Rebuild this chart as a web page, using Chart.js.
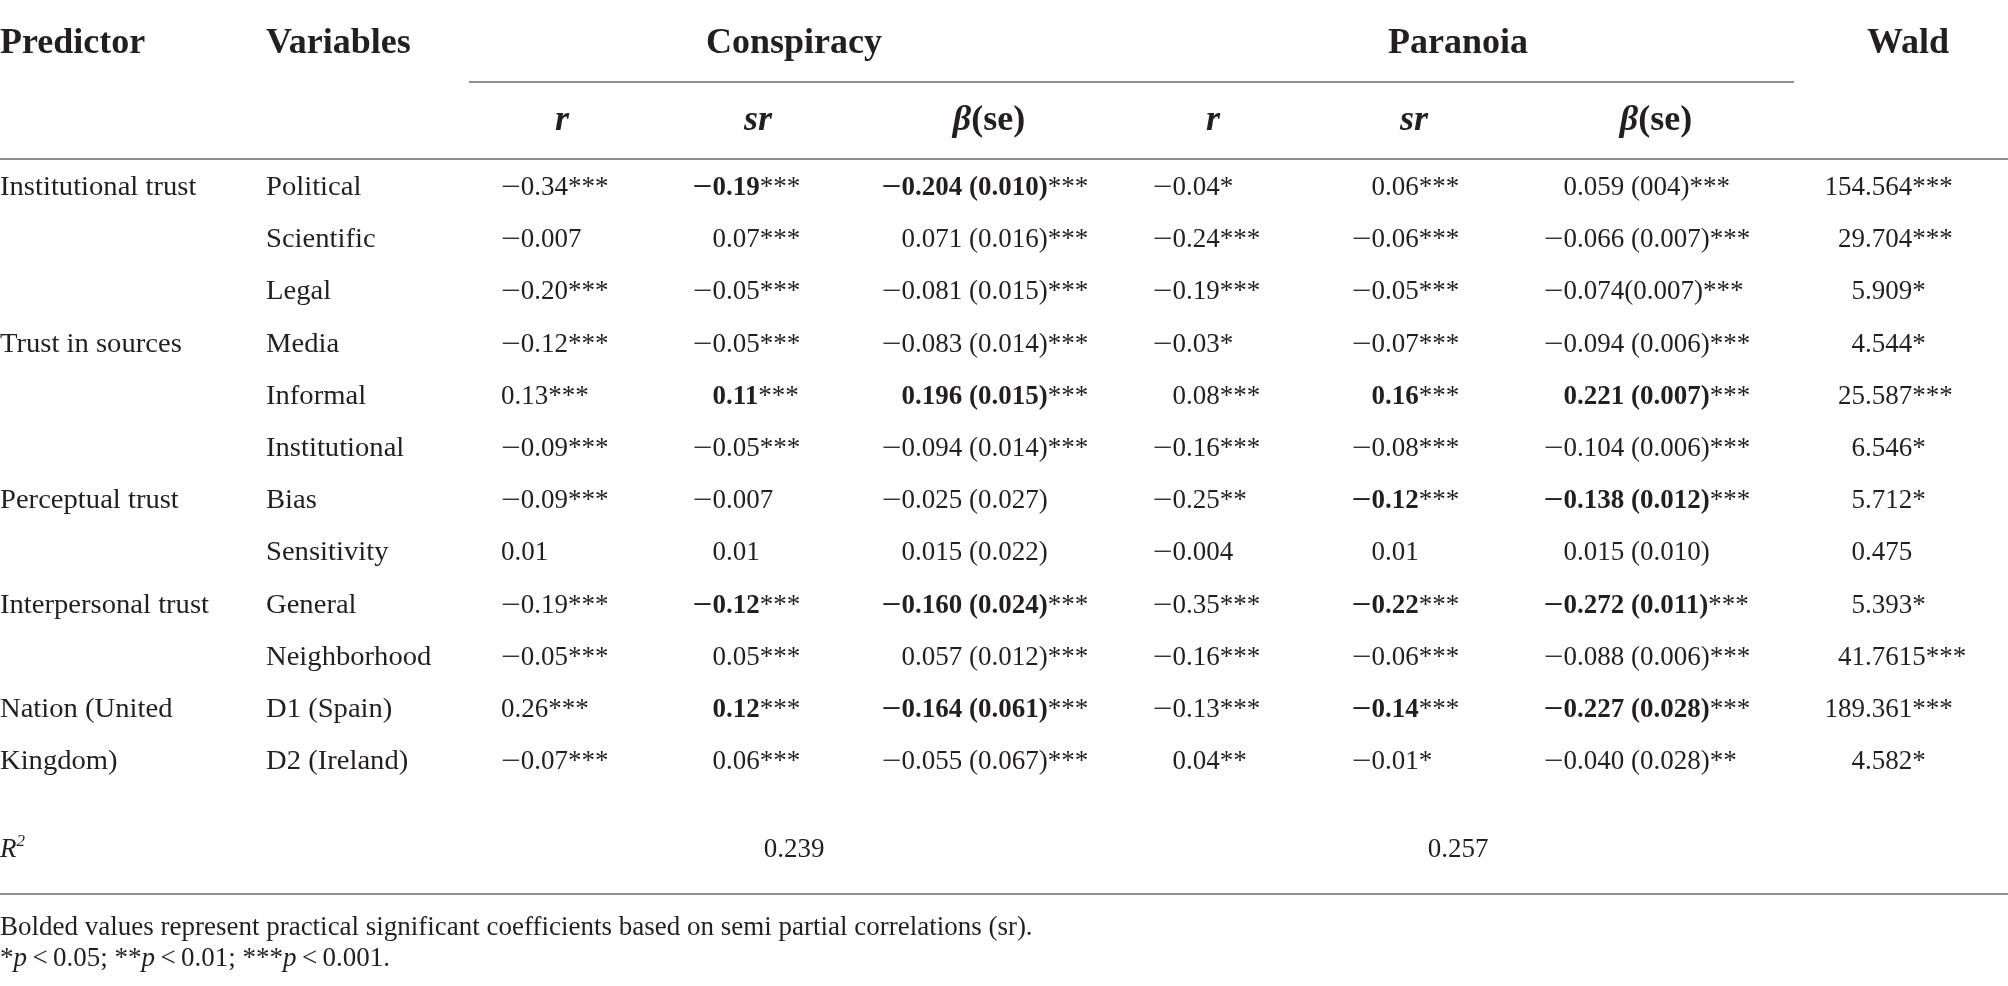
<!DOCTYPE html>
<html><head><meta charset="utf-8">
<script src="https://cdn.jsdelivr.net/npm/chart.js@4.4.1/dist/chart.umd.min.js"></script>
<style>html,body{margin:0;padding:0;background:#fff;overflow:hidden}#wrap{width:2008px;height:986px;position:relative}</style>
</head><body><div id="wrap"><canvas id="c" width="2008" height="986"></canvas></div>
<script>
// ---------- data ----------
const headerLabels = ["Predictor", "Variables", "Wald"];
const groupLabels = ["Conspiracy", "Paranoia"];
const subLabels = ["r", "sr", "β(se)"];
const predictors = ["Institutional trust", "", "", "Trust in sources", "", "", "Perceptual trust", "", "Interpersonal trust", "", "Nation (United", "Kingdom)"];
const variables = ["Political", "Scientific", "Legal", "Media", "Informal", "Institutional", "Bias", "Sensitivity", "General", "Neighborhood", "D1 (Spain)", "D2 (Ireland)"];
const conspiracyR = ["−0.34***", "−0.007", "−0.20***", "−0.12***", "0.13***", "−0.09***", "−0.09***", "0.01", "−0.19***", "−0.05***", "0.26***", "−0.07***"];
const conspiracySr = ["−0.19***", "0.07***", "−0.05***", "−0.05***", "0.11***", "−0.05***", "−0.007", "0.01", "−0.12***", "0.05***", "0.12***", "0.06***"];
const conspiracyBeta = ["−0.204 (0.010)***", "0.071 (0.016)***", "−0.081 (0.015)***", "−0.083 (0.014)***", "0.196 (0.015)***", "−0.094 (0.014)***", "−0.025 (0.027)", "0.015 (0.022)", "−0.160 (0.024)***", "0.057 (0.012)***", "−0.164 (0.061)***", "−0.055 (0.067)***"];
const paranoiaR = ["−0.04*", "−0.24***", "−0.19***", "−0.03*", "0.08***", "−0.16***", "−0.25**", "−0.004", "−0.35***", "−0.16***", "−0.13***", "0.04**"];
const paranoiaSr = ["0.06***", "−0.06***", "−0.05***", "−0.07***", "0.16***", "−0.08***", "−0.12***", "0.01", "−0.22***", "−0.06***", "−0.14***", "−0.01*"];
const paranoiaBeta = ["0.059 (004)***", "−0.066 (0.007)***", "−0.074(0.007)***", "−0.094 (0.006)***", "0.221 (0.007)***", "−0.104 (0.006)***", "−0.138 (0.012)***", "0.015 (0.010)", "−0.272 (0.011)***", "−0.088 (0.006)***", "−0.227 (0.028)***", "−0.040 (0.028)**"];
const wald = ["154.564***", "29.704***", "5.909*", "4.544*", "25.587***", "6.546*", "5.712*", "0.475", "5.393*", "41.7615***", "189.361***", "4.582*"];
const conspiracyBold = [true, false, false, false, true, false, false, false, true, false, true, false];
const paranoiaBold = [false, false, false, false, true, false, true, false, true, false, true, false];
const rSquared = ["0.239", "0.257"];
const note1 = "Bolded values represent practical significant coefficients based on semi partial correlations (sr).";

// ---------- layout (pixels) ----------
const FONT = '"Liberation Serif", "DejaVu Serif", serif';
const INK = '#231f20';
const RULE = '#8e8e8e';
const L = {
  rowBase: 195, rowStep: 52.2,
  headBase: 53, subBase: 130,
  groupRuleY: 82, groupRule: [469, 1794],
  headRuleY: 159, footRuleY: 894,
  r2Base: 857, note1Base: 935, note2Base: 966,
  predX: 0, varX: 266,
  groupX: [794, 1458], waldX: 1908,
  subX: [562, 758, 989, 1213, 1414, 1656],
  colX: [501, 726, 915, 1186, 1385, 1577, 1865],
  colAlign: ['left', 'dec', 'dec', 'dec', 'dec', 'dec', 'dec'],
  body: 27, head: 36, note: 27,
  labelScale: 1.06, minusScale: 1.3
};
const rowY = i => L.rowBase + i * L.rowStep;

const columns = [
  { vals: predictors, x: L.predX, align: 'left', bold: null, sx: L.labelScale },
  { vals: variables, x: L.varX, align: 'left', bold: null, sx: L.labelScale },
  { vals: conspiracyR, x: L.colX[0], align: L.colAlign[0], bold: null },
  { vals: conspiracySr, x: L.colX[1], align: L.colAlign[1], bold: conspiracyBold },
  { vals: conspiracyBeta, x: L.colX[2], align: L.colAlign[2], bold: conspiracyBold },
  { vals: paranoiaR, x: L.colX[3], align: L.colAlign[3], bold: null },
  { vals: paranoiaSr, x: L.colX[4], align: L.colAlign[4], bold: paranoiaBold },
  { vals: paranoiaBeta, x: L.colX[5], align: L.colAlign[5], bold: paranoiaBold },
  { vals: wald, x: L.colX[6], align: L.colAlign[6], bold: null }
];

const datasets = columns.map(c => ({
  data: c.vals.map((v, i) => ({ x: c.x, y: rowY(i) })),
  cell: c,
  pointRadius: 0, showLine: false
}));

function f(size, w, it) { return (it ? 'italic ' : '') + (w ? 'bold ' : '') + size + 'px ' + FONT; }
function measure(ctx, parts) {
  let w = 0;
  parts.forEach(p => { ctx.font = p.font; p.w = ctx.measureText(p.t).width * (p.sx || 1); w += p.w; });
  return w;
}
function runs(ctx, parts, x, y, align) {
  const w = measure(ctx, parts);
  let cx = align === 'center' ? x - w / 2 : x;
  ctx.textAlign = 'left';
  parts.forEach(p => {
    ctx.font = p.font;
    ctx.save();
    ctx.translate(cx, y + (p.dy || 0));
    ctx.scale(p.sx || 1, 1);
    ctx.fillText(p.t, 0, 0);
    ctx.restore();
    cx += p.w;
  });
}

const tablePlugin = {
  id: 'table',
  afterDatasetsDraw(chart) {
    const ctx = chart.ctx, xs = chart.scales.x, ys = chart.scales.y;
    const X = v => xs.getPixelForValue(v), Y = v => ys.getPixelForValue(v);
    ctx.save();
    ctx.fillStyle = INK;
    ctx.textBaseline = 'alphabetic';
    // headers
    const hf = f(L.head, true, false);
    runs(ctx, [{ t: headerLabels[0], font: hf }], X(L.predX), Y(L.headBase), 'left');
    runs(ctx, [{ t: headerLabels[1], font: hf }], X(L.varX), Y(L.headBase), 'left');
    runs(ctx, [{ t: groupLabels[0], font: hf }], X(L.groupX[0]), Y(L.headBase), 'center');
    runs(ctx, [{ t: groupLabels[1], font: hf }], X(L.groupX[1]), Y(L.headBase), 'center');
    runs(ctx, [{ t: headerLabels[2], font: hf }], X(L.waldX), Y(L.headBase), 'center');
    L.subX.forEach((sx, k) => {
      const lab = subLabels[k % 3];
      let parts;
      if (lab.startsWith('β')) parts = [{ t: 'β', font: f(L.head, true, true) }, { t: lab.slice(1), font: f(L.head, true, false) }];
      else parts = [{ t: lab, font: f(L.head, true, true) }];
      runs(ctx, parts, X(sx), Y(L.subBase), 'center');
    });
    // rules
    ctx.strokeStyle = RULE; ctx.lineWidth = 2;
    const hl = (x1, x2, y) => { ctx.beginPath(); ctx.moveTo(X(x1), Y(y)); ctx.lineTo(X(x2), Y(y)); ctx.stroke(); };
    hl(L.groupRule[0], L.groupRule[1], L.groupRuleY);
    hl(0, 2008, L.headRuleY);
    hl(0, 2008, L.footRuleY);
    // cells
    chart.data.datasets.forEach((ds, di) => {
      const meta = chart.getDatasetMeta(di);
      const c = ds.cell;
      meta.data.forEach((pt, j) => {
        const v = c.vals[j];
        if (!v) return;
        const m = v.match(/^(.*?)(\**)$/);
        let main = m[1];
        const stars = m[2];
        const isBold = c.bold ? c.bold[j] : false;
        const mf = f(L.body, isBold, false), rf = f(L.body, false, false);
        const parts = [];
        if (main.startsWith('−')) { parts.push({ t: '−', font: mf, sx: L.minusScale }); main = main.slice(1); }
        const k = main.indexOf('.');
        const before = parts.slice();
        if (c.align === 'dec' && k >= 0) before.push({ t: main.slice(0, k), font: mf });
        parts.push({ t: main, font: mf, sx: c.sx });
        if (stars) parts.push({ t: stars, font: rf });
        let x0 = pt.x;
        if (c.align === 'dec') x0 = pt.x - measure(ctx, before);
        runs(ctx, parts, x0, pt.y, 'left');
      });
    });
    // R squared
    runs(ctx, [{ t: 'R', font: f(L.body, false, true) }, { t: '2', font: f(17, false, true), dy: -11 }], X(0), Y(L.r2Base), 'left');
    runs(ctx, [{ t: rSquared[0], font: f(L.body, false, false) }], X(L.groupX[0]), Y(L.r2Base), 'center');
    runs(ctx, [{ t: rSquared[1], font: f(L.body, false, false) }], X(L.groupX[1]), Y(L.r2Base), 'center');
    // notes
    const nf = f(L.note, false, false), ni = f(L.note, false, true);
    runs(ctx, [{ t: note1, font: nf }], X(0), Y(L.note1Base), 'left');
    const ts = '\u2009';
    runs(ctx, [
      { t: '*', font: nf }, { t: 'p', font: ni }, { t: ts + '<' + ts + '0.05; **', font: nf }, { t: 'p', font: ni },
      { t: ts + '<' + ts + '0.01; ***', font: nf }, { t: 'p', font: ni }, { t: ts + '<' + ts + '0.001.', font: nf }
    ], X(0), Y(L.note2Base), 'left');
    ctx.restore();
  }
};

new Chart(document.getElementById('c'), {
  type: 'scatter',
  data: { datasets },
  options: {
    responsive: false, animation: false, events: [],
    devicePixelRatio: 1,
    layout: { padding: 0 },
    plugins: { legend: { display: false }, tooltip: { enabled: false } },
    scales: {
      x: { type: 'linear', min: 0, max: 2008, display: false },
      y: { type: 'linear', min: 0, max: 986, reverse: true, display: false }
    }
  },
  plugins: [tablePlugin]
});
</script>
</body></html>
